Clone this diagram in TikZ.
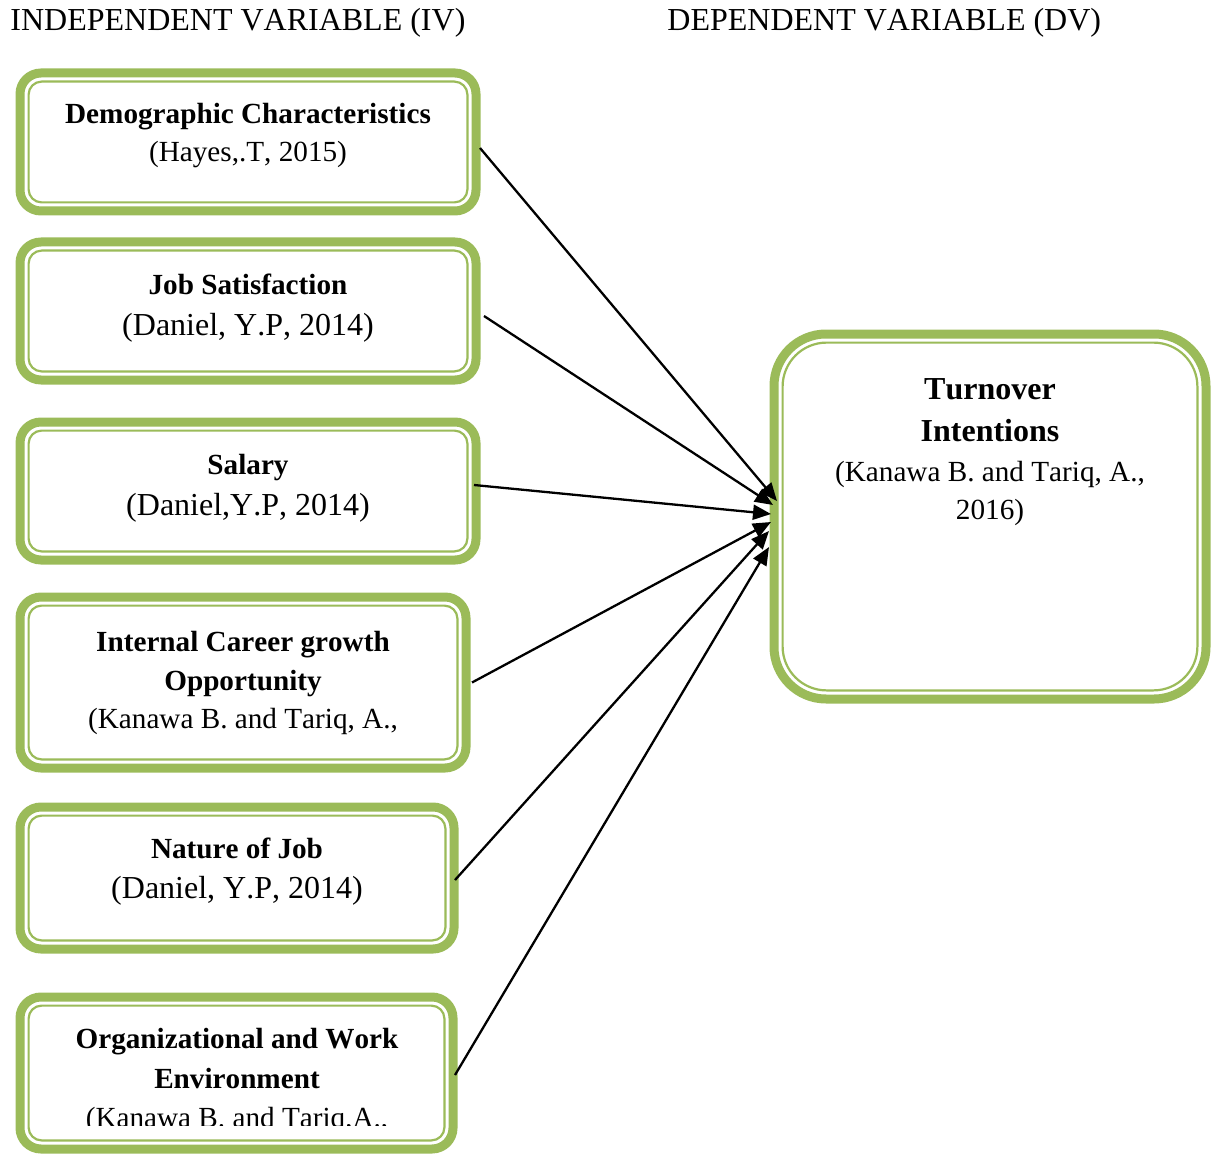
\documentclass[tikz,border=0pt]{standalone}
\usepackage{fontspec}
\setmainfont{Liberation Serif}[Kerning=Off]
\usetikzlibrary{arrows.meta}
\definecolor{og}{HTML}{9BBB59}
\tikzset{
 gbox/.style={draw=og, line width=4.5pt, rounded corners=10.5pt, inner sep=0pt, outer sep=0pt, fill=white},
 gin/.style={draw=og, line width=1.1pt, rounded corners=6.5pt},
 ttl/.style={anchor=base, inner sep=0pt, font=\fontsize{14.6}{17}\selectfont\bfseries},
 cit/.style={anchor=base, inner sep=0pt, font=\fontsize{16}{19}\selectfont},
 cits/.style={anchor=base, inner sep=0pt, font=\fontsize{14.6}{17}\selectfont},
 dvt/.style={anchor=base, inner sep=0pt, font=\fontsize{16}{19}\selectfont\bfseries},
 arr/.style={line width=1.15pt, -{Triangle[length=9pt,width=7.5pt]}},
 hdr/.style={anchor=base west, inner sep=0pt, font=\fontsize{16}{19}\selectfont}
}
\begin{document}
\begin{tikzpicture}[x=0.5pt,y=-0.5pt]
\useasboundingbox (0,0) rectangle (1220,1155);
\node[hdr] (h1) at (10,31) {INDEPENDENT VARIABLE (IV)};
\node[hdr] (h2) at (667,31) {DEPENDENT VARIABLE (DV)};

\node[gbox, minimum width=228pt, minimum height=69pt] (b1) at (248,142) {};
\node[gbox, minimum width=228pt, minimum height=69pt] (b2) at (248,311) {};
\node[gbox, minimum width=228pt, minimum height=69pt] (b3) at (248,491) {};
\node[gbox, minimum width=223pt, minimum height=85.5pt] (b4) at (243,682.5) {};
\node[gbox, minimum width=217pt, minimum height=71pt] (b5) at (237,878) {};
\node[gbox, minimum width=216.5pt, minimum height=76pt] (b6) at (236.5,1073) {};
\node[gbox, rounded corners=26pt, minimum width=216pt, minimum height=182.5pt] (dv) at (990,516.5) {};

\foreach \n in {b1,b2,b3,b4,b5,b6}
  \draw[gin] ([xshift=4.3pt,yshift=4.3pt]\n.south west) rectangle ([xshift=-4.3pt,yshift=-4.3pt]\n.north east);
\draw[gin, rounded corners=22pt] ([xshift=4.3pt,yshift=4.3pt]dv.south west) rectangle ([xshift=-4.3pt,yshift=-4.3pt]dv.north east);

\node[ttl] (t1a) at (248,124) {Demographic Characteristics};
\node[cits] (t1b) at (248,162) {(Hayes,.T, 2015)};
\node[ttl] (t2a) at (248,294) {Job Satisfaction};
\node[cit] (t2b) at (248,335) {(Daniel, Y.P, 2014)};
\node[ttl] (t3a) at (248,474) {Salary};
\node[cit] (t3b) at (248,515) {(Daniel,Y.P, 2014)};
\node[ttl] (t4a) at (243,651) {Internal Career growth};
\node[ttl] (t4b) at (243,690) {Opportunity};
\node[cits] (t4c) at (243,728) {(Kanawa B. and Tariq, A.,};
\node[ttl] (t5a) at (237,858) {Nature of Job};
\node[cit] (t5b) at (237,898) {(Daniel, Y.P, 2014)};
\node[ttl] (t6a) at (237,1048.5) {Organizational and Work};
\node[ttl] (t6b) at (237,1088.5) {Environment};
\begin{scope}
\clip (0,1000) rectangle (1220,1125);
\node[cits] (t6c) at (237,1127) {(Kanawa B. and Tariq,A.,};
\end{scope}
\node[dvt] (d1) at (990,399.5) {Turnover};
\node[dvt] (d2) at (990,441.5) {Intentions};
\node[cits] (d3) at (990,481) {(Kanawa B. and Tariq, A.,};
\node[cits] (d4) at (990,519.5) {2016)};

\coordinate (e1) at (777,501);
\coordinate (e2) at (773,505);
\coordinate (e3) at (771,514);
\coordinate (e4) at (771,522);
\coordinate (e5) at (769,531);
\coordinate (e6) at (769,547);

\draw[arr] ([xshift=2pt,yshift=-3pt]b1.east) -- (e1);
\draw[arr] ([xshift=4pt,yshift=-2.5pt]b2.east) -- (e2);
\draw[arr] ([xshift=-1pt,yshift=3pt]b3.east) -- (e3);
\draw[arr] ([xshift=3pt]b4.east) -- (e4);
\draw[arr] ([xshift=0.5pt,yshift=-1pt]b5.east) -- (e5);
\draw[arr] ([xshift=1pt,yshift=-1pt]b6.east) -- (e6);
\end{tikzpicture}
\end{document}
